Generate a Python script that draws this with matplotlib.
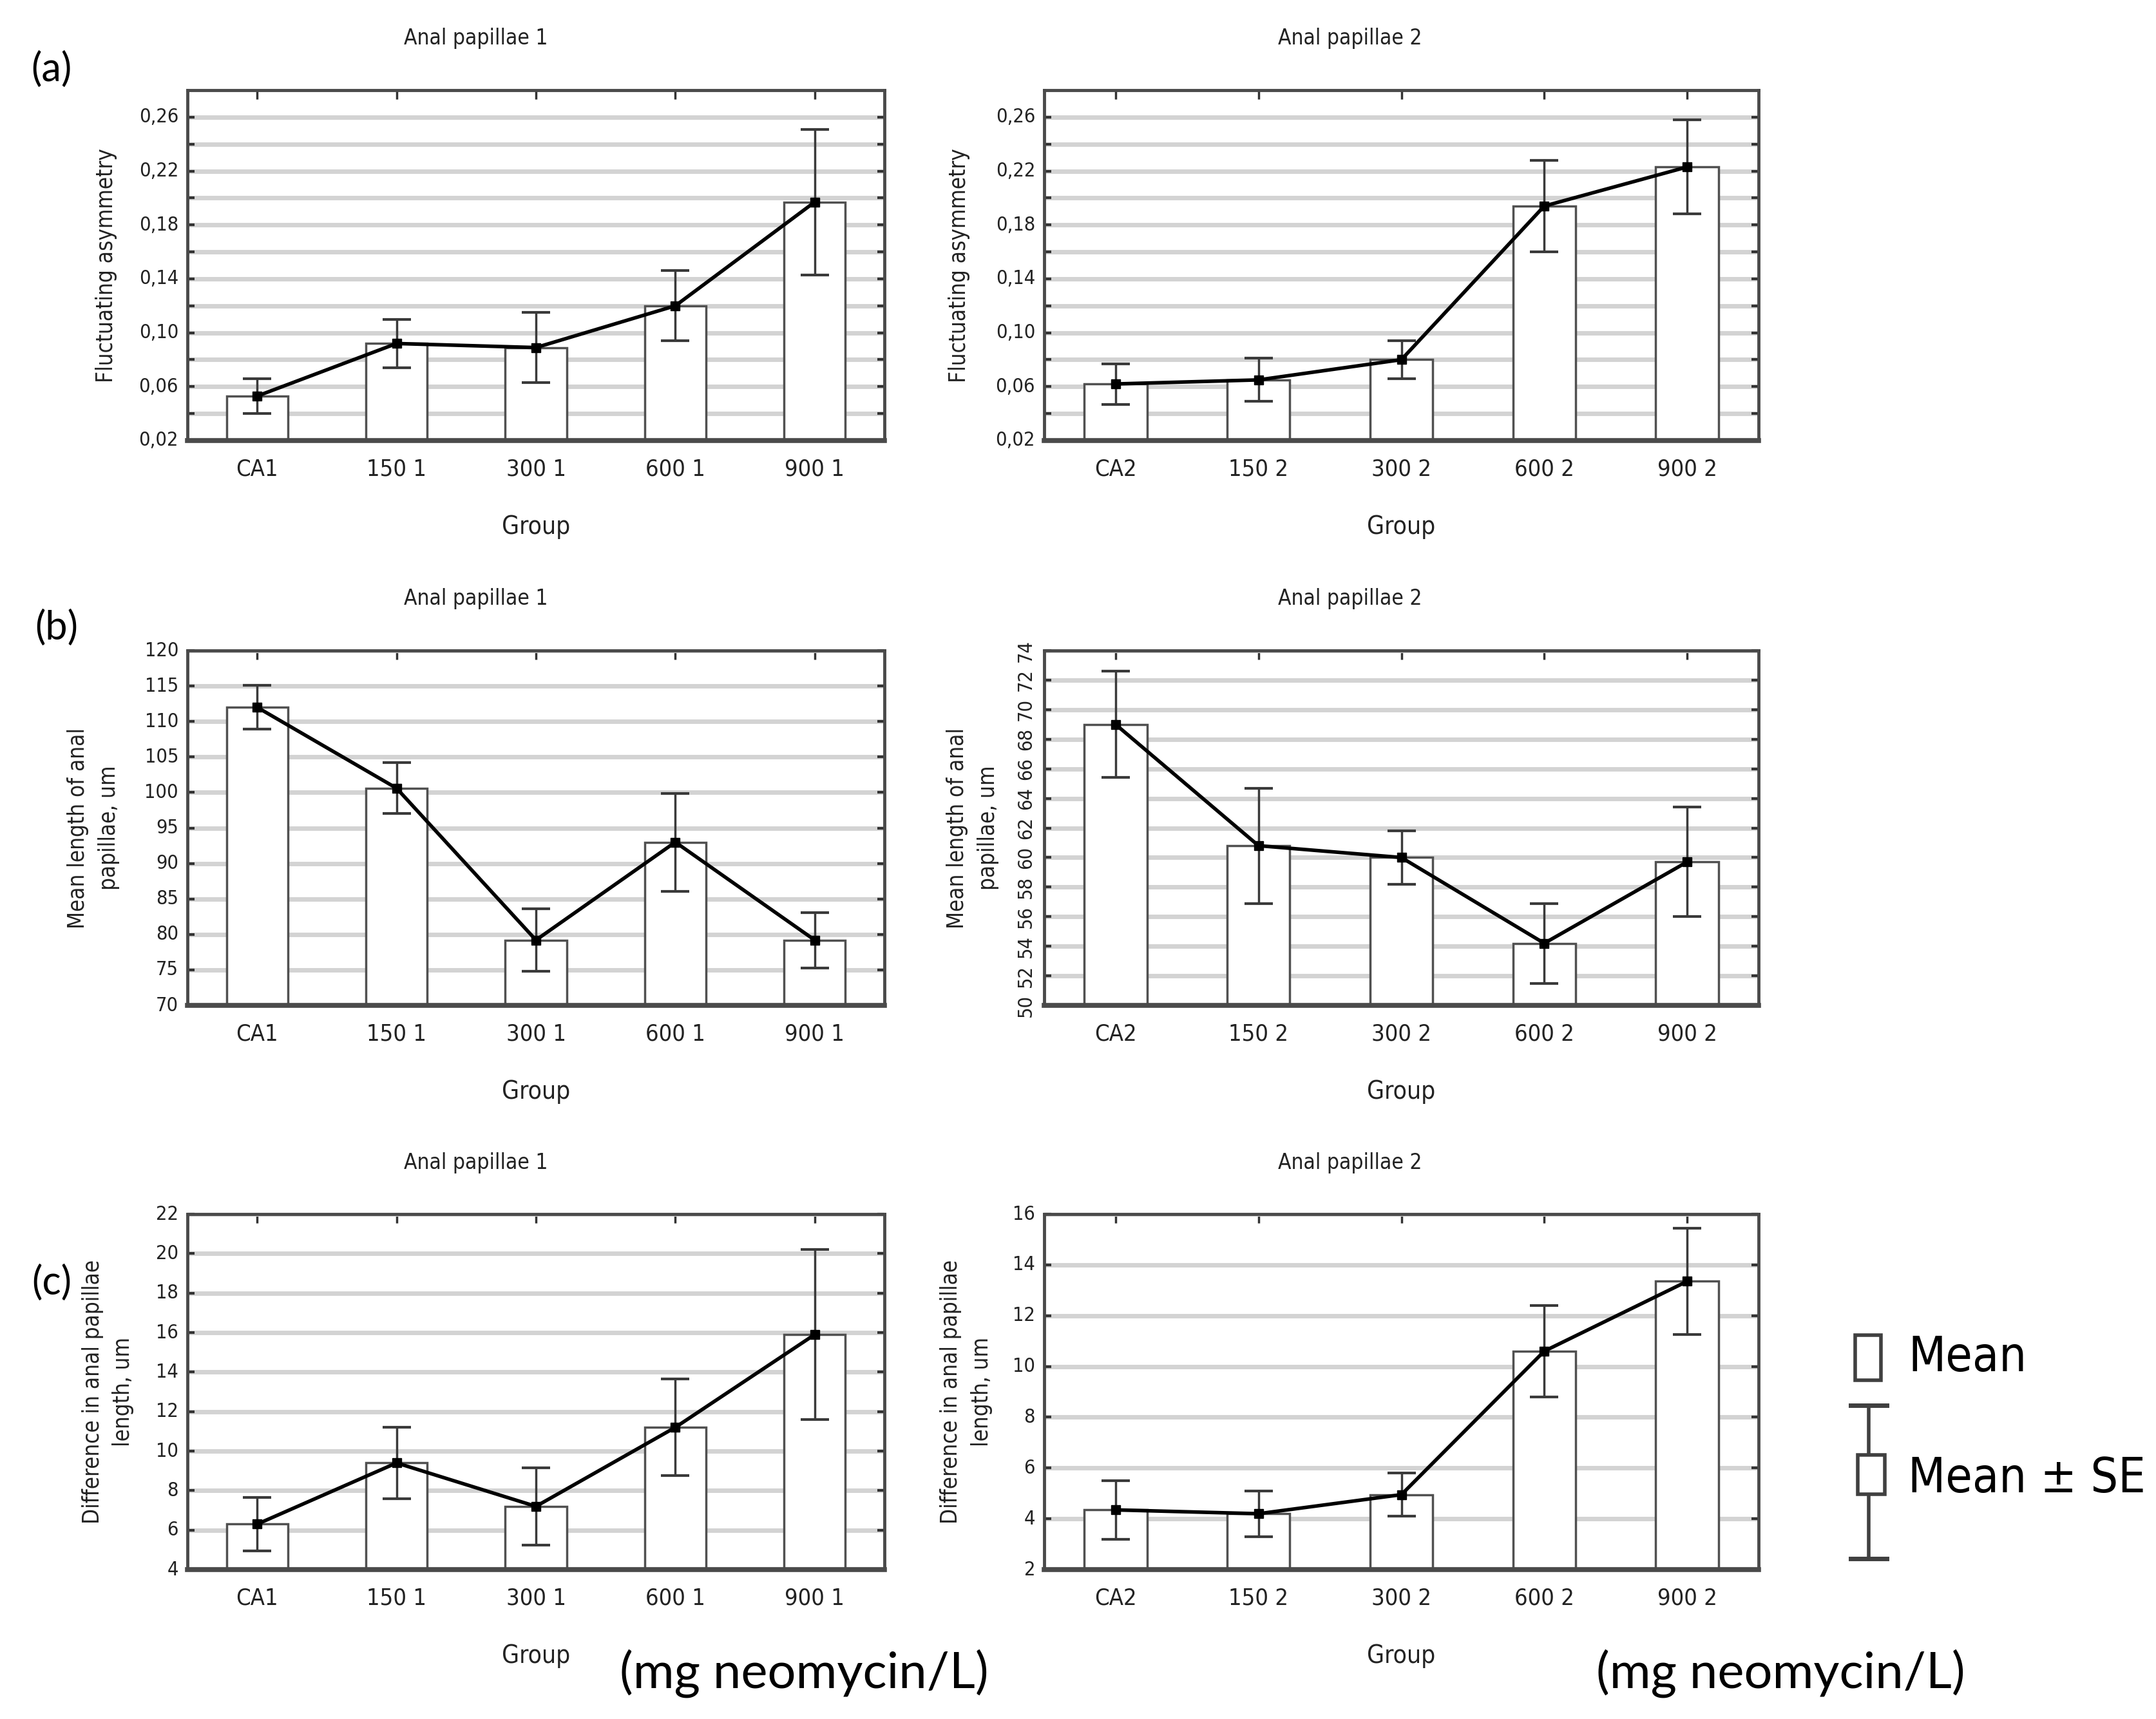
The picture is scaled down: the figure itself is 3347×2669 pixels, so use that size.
import matplotlib
matplotlib.use("Agg")
import matplotlib.pyplot as plt
from matplotlib.patches import Rectangle
from matplotlib.lines import Line2D

# ---------------- data ----------------
groups1 = ["CA1", "150 1", "300 1", "600 1", "900 1"]
groups2 = ["CA2", "150 2", "300 2", "600 2", "900 2"]

fa1_mean = [0.053, 0.092, 0.089, 0.120, 0.197]
fa1_se = [0.013, 0.018, 0.026, 0.026, 0.054]
fa2_mean = [0.062, 0.065, 0.080, 0.194, 0.223]
fa2_se = [0.015, 0.016, 0.014, 0.034, 0.035]

len1_mean = [112.0, 100.6, 79.2, 93.0, 79.2]
len1_se = [3.1, 3.6, 4.4, 6.9, 3.9]
len2_mean = [69.0, 60.8, 60.0, 54.2, 59.7]
len2_se = [3.6, 3.9, 1.8, 2.7, 3.7]

diff1_mean = [6.3, 9.4, 7.2, 11.2, 15.9]
diff1_se = [1.35, 1.8, 1.95, 2.45, 4.3]
diff2_mean = [4.35, 4.2, 4.95, 10.6, 13.35]
diff2_se = [1.15, 0.9, 0.85, 1.8, 2.1]

fa_ticks = [0.02, 0.04, 0.06, 0.08, 0.10, 0.12, 0.14, 0.16, 0.18, 0.20, 0.22, 0.24, 0.26]
fa_labels = ["0,02", "", "0,06", "", "0,10", "", "0,14", "", "0,18", "", "0,22", "", "0,26"]
len1_ticks = [70, 75, 80, 85, 90, 95, 100, 105, 110, 115, 120]
len2_ticks = [50, 52, 54, 56, 58, 60, 62, 64, 66, 68, 70, 72, 74]
diff1_ticks = [4, 6, 8, 10, 12, 14, 16, 18, 20, 22]
diff2_ticks = [2, 4, 6, 8, 10, 12, 14, 16]

titles = ["Anal papillae 1", "Anal papillae 2"]
ylabels = ["Fluctuating asymmetry", "Mean length of anal\npapillae, um",
           "Difference in anal papillae\nlength, um"]
panel_tags = ["(a)", "(b)", "(c)"]
unit_text = "(mg neomycin/L)"
legend_texts = ["Mean", "Mean \u00b1 SE"]

# ---------------- style ----------------
W, H = 3348, 2669
FONT = ["DejaVu Sans"]
fig = plt.figure(figsize=(W / 100, H / 100), dpi=100)
fig.patch.set_facecolor("white")

def px_rect(x0, y0, x1, y1):
    return [x0 / W, 1 - y1 / H, (x1 - x0) / W, (y1 - y0) / H]

col_x = [(291, 1373), (1621, 2730)]
row_y = [(140, 684), (1010, 1561), (1885, 2437)]

panels = [
    [(fa1_mean, fa1_se, groups1, fa_ticks, fa_labels, (0.02, 0.28)),
     (fa2_mean, fa2_se, groups2, fa_ticks, fa_labels, (0.02, 0.28))],
    [(len1_mean, len1_se, groups1, len1_ticks, [str(t) for t in len1_ticks], (70, 120)),
     (len2_mean, len2_se, groups2, len2_ticks, [str(t) for t in len2_ticks], (50, 74))],
    [(diff1_mean, diff1_se, groups1, diff1_ticks, [str(t) for t in diff1_ticks], (4, 22)),
     (diff2_mean, diff2_se, groups2, diff2_ticks, [str(t) for t in diff2_ticks], (2, 16))],
]

ylabel_x = [[-0.116, -0.119], [-0.135, -0.100], [-0.114, -0.109]]
title_x = [0.414, 0.428]

for r in range(3):
    for c in range(2):
        mean, se, grp, ticks, tlabels, ylim = panels[r][c]
        x0, x1 = col_x[c]
        y0, y1 = row_y[r]
        ax = fig.add_axes(px_rect(x0, y0, x1, y1))
        xs = list(range(len(grp)))
        ax.set_axisbelow(True)
        ax.bar(xs, mean, width=0.44, color="white", edgecolor="#505050",
               linewidth=2.5, zorder=2)
        ax.errorbar(xs, mean, yerr=se, fmt="none", ecolor="#3a3a3a",
                    elinewidth=2.5, capsize=16, capthick=3, zorder=3)
        ax.plot(xs, mean, color="black", linewidth=4, marker="s",
                markersize=10, markerfacecolor="black", zorder=4)
        ax.set_xlim(-0.5, len(grp) - 0.5)
        ax.set_ylim(*ylim)
        ax.set_xticks(xs)
        ax.set_xticklabels(grp, fontsize=26, family=FONT, color="#222222",
                           fontstretch="condensed")
        ax.set_yticks(ticks)
        rot = 90 if (r == 1 and c == 1) else 0
        ax.set_yticklabels(tlabels, fontsize=22, family=FONT, color="#222222",
                           rotation=rot, va="center", fontstretch="condensed")
        ax.grid(axis="y", color="#d3d3d3", linewidth=5, zorder=0)
        ax.tick_params(axis="y", direction="in", left=True, right=True,
                       length=8, width=3, color="#333333", pad=10)
        ax.tick_params(axis="x", direction="in", top=True, bottom=True,
                       length=10, width=2.5, color="#333333", pad=20)
        for sp in ax.spines.values():
            sp.set_color("#4a4a4a")
            sp.set_linewidth(3.5)
        ax.spines["bottom"].set_linewidth(5.5)
        ax.set_xlabel("Group", fontsize=28, family=FONT, color="#222222",
                      labelpad=38, fontstretch="condensed")
        ax.set_ylabel(ylabels[r], fontsize=25, family=FONT, color="#222222",
                      linespacing=1.5, fontstretch="condensed")
        ax.yaxis.label.set_verticalalignment("center")
        ax.yaxis.set_label_coords(ylabel_x[r][c], 0.5)
        ax.text(title_x[c], 1 + 80 / (y1 - y0), titles[c], transform=ax.transAxes,
                ha="center", va="center", fontsize=24, family=FONT,
                color="#222222", fontstretch="condensed")

# panel tags
tag_pos = [(80, 108), (88, 975), (80, 1992)]
for tag, (tx, ty) in zip(panel_tags, tag_pos):
    fig.text(tx / W, 1 - ty / H, tag, fontsize=44, family=["Lato", "DejaVu Sans"],
             ha="center", va="center", color="black")

# unit text
for ux in [1248, 2764]:
    fig.text(ux / W, 1 - 2598 / H, unit_text, fontsize=56,
             family=["Lato", "DejaVu Sans"], ha="center", va="center", color="black")

# legend (manual)
ft = fig.transFigure
def fx(x):
    return x / W
def fy(y):
    return 1 - y / H

fig.patches.append(Rectangle((fx(2880), fy(2143)), (2920 - 2880) / W, (2143 - 2073) / H,
                             transform=ft, facecolor="white", edgecolor="#404040",
                             linewidth=4))
fig.lines.append(Line2D([fx(2901), fx(2901)], [fy(2182), fy(2420)], transform=ft,
                        color="#404040", linewidth=4))
for yy in [2182, 2420]:
    fig.lines.append(Line2D([fx(2873), fx(2929)], [fy(yy), fy(yy)], transform=ft,
                            color="#404040", linewidth=5))
fig.patches.append(Rectangle((fx(2884), fy(2320)), (2926 - 2884) / W, (2320 - 2259) / H,
                             transform=ft, facecolor="white", edgecolor="#404040",
                             linewidth=4, zorder=5))
fig.text(fx(2962), fy(2108), legend_texts[0], fontsize=54, family=FONT,
         ha="left", va="center", color="black", fontstretch="condensed")
fig.text(fx(2962), fy(2297), legend_texts[1], fontsize=54, family=FONT,
         ha="left", va="center", color="black", fontstretch="condensed")

fig.savefig("out.png", dpi=100, facecolor="white")
